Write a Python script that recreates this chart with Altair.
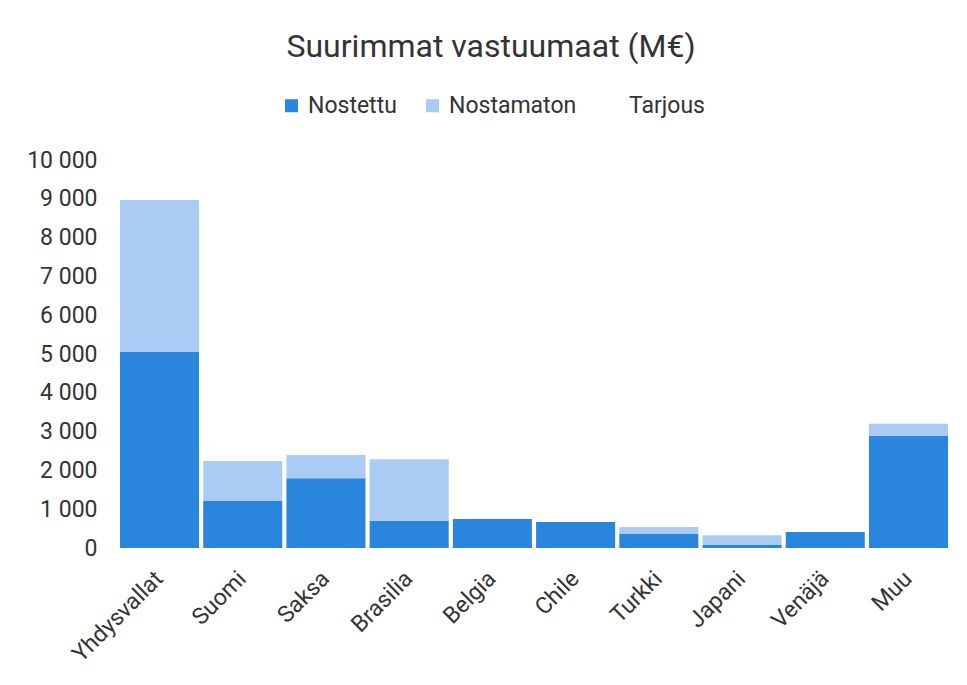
import altair as alt
import pandas as pd

countries = ["Yhdysvallat", "Suomi", "Saksa", "Brasilia", "Belgia", "Chile",
             "Turkki", "Japani", "Venäjä", "Muu"]
nostettu = [5050, 1210, 1800, 700, 750, 670, 360, 80, 410, 2890]
nostamaton = [3920, 1030, 600, 1590, 0, 0, 180, 250, 0, 310]
tarjous = [0, 0, 0, 0, 0, 0, 0, 0, 0, 0]

series = ["Nostettu", "Nostamaton", "Tarjous"]
colors = ["#2a85dc", "#a9cbf4", "transparent"]

rows = []
for i, c in enumerate(countries):
    for k, (s, vals) in enumerate(zip(series, [nostettu, nostamaton, tarjous])):
        rows.append({"maa": c, "sarja": s, "arvo": vals[i], "ord": k})
df = pd.DataFrame(rows)

font = "Roboto"
txt = "#333333"

chart = alt.Chart(df).mark_bar().encode(
    x=alt.X("maa:N", sort=countries, title=None,
            scale=alt.Scale(paddingInner=0.05, paddingOuter=0.0),
            axis=alt.Axis(labelAngle=-45, labelFontSize=23, labelColor=txt,
                          labelFont=font, ticks=False, domain=False,
                          labelPadding=19, labelOffset=-8)),
    y=alt.Y("arvo:Q", stack="zero", title=None,
            scale=alt.Scale(domain=[0, 10000], nice=False),
            axis=alt.Axis(values=list(range(0, 10001, 1000)),
                          labelExpr="replace(format(datum.value, ','), /,/g, ' ')",
                          labelFontSize=23, labelColor=txt, labelFont=font,
                          ticks=False, domain=False, grid=False,
                          labelPadding=23)),
    color=alt.Color("sarja:N", sort=series,
                    scale=alt.Scale(domain=series, range=colors),
                    legend=alt.Legend(title=None, orient="none", direction="horizontal",
                                      legendX=160, legendY=-66,
                                      labelFontSize=23, labelColor=txt, labelFont=font,
                                      symbolType="square", symbolSize=170,
                                      columnPadding=24, labelOffset=5)),
    order=alt.Order("ord:Q", sort="ascending"),
).properties(
    width=828, height=388,
    background="white",
    title=alt.TitleParams("Suurimmat vastuumaat (M€)", fontSize=32, font=font,
                          color=txt, fontWeight="normal", anchor="middle",
                          dx=-43, offset=30),
    padding={"left": 112, "top": 152, "right": 10, "bottom": 128},
    autosize=alt.AutoSizeParams(type="none"),
).configure_view(strokeWidth=0, stroke="transparent")

chart.save("out.html", embed_options={"renderer": "svg", "actions": False})
